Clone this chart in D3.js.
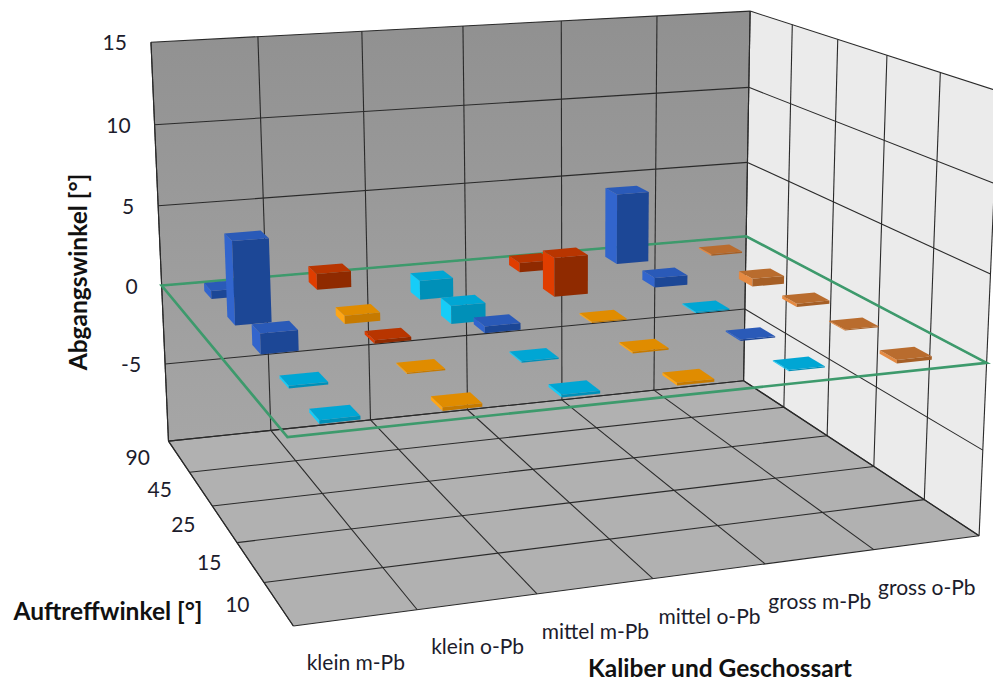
<!DOCTYPE html>
<html><head><meta charset="utf-8">
<script src="https://cdn.jsdelivr.net/npm/d3@7"></script>
<style>html,body{margin:0;padding:0;background:#fff;overflow:hidden}svg{display:block}text{font-family:Lato,"Open Sans",sans-serif}</style>
</head><body><svg id="c" width="993" height="686"></svg>
<script>
const categories=["klein m-Pb","klein o-Pb","mittel m-Pb","mittel o-Pb","gross m-Pb","gross o-Pb"];
const depthLabels=["90","45","25","15","10"];
const valueTicks=[15,10,5,0,-5];
const row90=[0.5,1.0,-1.2,0.6,4.5,0.1];
const row45=[5.0,-0.5,-1.1,2.4,0.6,-0.5];
const row25=[1.2,0.2,0.4,0.08,0.08,-0.2];
const row15=[-0.15,0.08,0.08,-0.1,0.08,0.06];
const row10=[-0.2,-0.2,-0.15,-0.15,0.06,-0.2];
const colors90=["blue","red","cyan","red","blue","brown"];
const colors45=["blue","orange","cyan","red","blue","brown"];
const colors25=["blue","red","blue","orange","cyan","brown"];
const colors15=["cyan","orange","cyan","orange","blue","brown"];
const colors10=["cyan","orange","cyan","orange","cyan","brown"];
const rows=[row90,row45,row25,row15,row10];
const rowColors=[colors90,colors45,colors25,colors15,colors10];
const palette={blue:{top:"#2b5ab8",left:"#3165cd",front:"#1f4696"},
 red:{top:"#b83400",left:"#e03c00",front:"#8f2a00"},
 cyan:{top:"#04a6d4",left:"#18cdf8",front:"#0690b8"},
 orange:{top:"#e08c00",left:"#ffa614",front:"#c67a00"},
 brown:{top:"#b96c2e",left:"#e58a42",front:"#a65f26"}};
// camera frame: cube corners (category, depth, value) seen on screen
const frame=[[0,5,15,151,42],[6,5,15,750,11],[6,5,-10,743,380],[0,5,-10,168,441],[0,0,-10,294,626],[6,0,-10,979,536],
 [6,0,15,998,91],[0,5,0,162,286],[6,5,0,747,237],[6,0,0,987,363],[0,0,0,287,437]];
function solve(A,b){const n=b.length,M=A.map((r,i)=>[...r,b[i]]);
 for(let i=0;i<n;i++){let p=i;for(let k=i+1;k<n;k++)if(Math.abs(M[k][i])>Math.abs(M[p][i]))p=k;[M[i],M[p]]=[M[p],M[i]];
  for(let k=0;k<n;k++){if(k===i)continue;const f=M[k][i]/M[i][i];for(let j=i;j<=n;j++)M[k][j]-=f*M[i][j];}}
 return M.map((r,i)=>r[n]/r[i]);}
const nz=z=>(z+10)/25;
const eqs=[],rhs=[];
frame.forEach(([X,Y,Z,u,v])=>{const x=X/6,y=Y/5,z=nz(Z),U=u/1000,V=v/1000;
 eqs.push([x,y,z,1,0,0,0,0,-U*x,-U*y,-U*z]);rhs.push(U);
 eqs.push([0,0,0,0,x,y,z,1,-V*x,-V*y,-V*z]);rhs.push(V);});
const N=d3.range(11).map(i=>d3.range(11).map(j=>d3.sum(eqs,e=>e[i]*e[j])));
const B=d3.range(11).map(i=>d3.sum(eqs,(e,k)=>e[i]*rhs[k]));
const P=solve(N,B);
const project=(X,Y,Z)=>{const x=X/6,y=Y/5,z=nz(Z),w=P[8]*x+P[9]*y+P[10]*z+1;
 return [1000*(P[0]*x+P[1]*y+P[2]*z+P[3])/w,1000*(P[4]*x+P[5]*y+P[6]*z+P[7])/w];};

const xBand=d3.scaleBand().domain(categories).range([0,6]).paddingInner(.67).paddingOuter(.335);
const yBand=d3.scaleBand().domain(depthLabels).range([5,0]).paddingInner(.68).paddingOuter(.34);
const zS=d3.scaleLinear().domain([-10,15]).range([-10,15]);
const path=d3.line();
const poly=pts=>path(pts.map(p=>project(...p)))+"Z";
const svg=d3.select("#c");
const defs=svg.append("defs");
const g=defs.append("linearGradient").attr("id","wall").attr("x1",0).attr("x2",0).attr("y1",0).attr("y2",1);
g.append("stop").attr("offset",0).attr("stop-color","#909090");
g.append("stop").attr("offset",1).attr("stop-color","#a6a6a6");
defs.append("filter").attr("id","soft").append("feGaussianBlur").attr("stdDeviation",.45);
const root=svg.append("g").attr("filter","url(#soft)");
// walls
root.append("path").attr("d",poly([[0,5,15],[6,5,15],[6,5,-10],[0,5,-10]])).attr("fill","url(#wall)");
root.append("path").attr("d",poly([[6,5,15],[6,0,15],[6,0,-10],[6,5,-10]])).attr("fill","#ebebeb");
root.append("path").attr("d",poly([[0,5,-10],[6,5,-10],[6,0,-10],[0,0,-10]])).attr("fill","#b1b1b1");
// grid
const gridSegs=[];
const zTicks=[15,10,5,0,-5,-10];
zTicks.forEach(z=>{gridSegs.push([[0,5,zS(z)],[6,5,zS(z)]]);gridSegs.push([[6,5,zS(z)],[6,0,zS(z)]]);});
d3.range(7).forEach(i=>{gridSegs.push([[i,5,15],[i,5,-10]]);gridSegs.push([[i,5,-10],[i,0,-10]]);});
d3.range(6).forEach(j=>{gridSegs.push([[0,j,-10],[6,j,-10]]);gridSegs.push([[6,j,-10],[6,j,15]]);});
gridSegs.push([[0,5,15],[0,5,-10]],[[0,0,-10],[0,5,-10]]);
root.append("g").selectAll("path").data(gridSegs).join("path").attr("d",d=>path(d.map(p=>project(...p))))
 .attr("fill","none").attr("stroke","#2a2a2a").attr("stroke-width",1.1);
// zero plane
root.append("path").attr("d",poly([[0,5,0],[6,5,0],[6,0,0],[0,0,0]])).attr("fill","none").attr("stroke","#3d9a6c").attr("stroke-width",2.6);
// bars
const bars=[];
depthLabels.forEach((dl,r)=>categories.forEach((c,i)=>bars.push({dl,c,v:rows[r][i],col:palette[rowColors[r][i]]})));
bars.sort((a,b)=>d3.descending(yBand(a.dl),yBand(b.dl))||d3.descending(xBand(a.c),xBand(b.c)));
const bg=root.append("g").selectAll("g").data(bars).join("g");
const bw=xBand.bandwidth(),bd=yBand.bandwidth();
const geo=d=>{const x0=xBand(d.c),x1=x0+bw,y0=yBand(d.dl),y1=y0+bd,zb=zS(Math.min(0,d.v)),zt=zS(Math.max(0,d.v));return{x0,x1,y0,y1,zb,zt};};
bg.append("path").attr("fill",d=>d.col.left).attr("d",d=>{const g=geo(d);return poly([[g.x0,g.y0,g.zt],[g.x0,g.y1,g.zt],[g.x0,g.y1,g.zb],[g.x0,g.y0,g.zb]]);});
bg.append("path").attr("fill",d=>d.col.front).attr("d",d=>{const g=geo(d);return poly([[g.x0,g.y0,g.zt],[g.x1,g.y0,g.zt],[g.x1,g.y0,g.zb],[g.x0,g.y0,g.zb]]);});
bg.append("path").attr("fill",d=>d.col.top).attr("d",d=>{const g=geo(d);return poly([[g.x0,g.y0,g.zt],[g.x1,g.y0,g.zt],[g.x1,g.y1,g.zt],[g.x0,g.y1,g.zt]]);});
// labels
const rowMid=d=>yBand(d)+bd/2,catMid=d=>xBand(d)+bw/2;
const lab=svg.append("g").attr("fill","#1c1c2c").attr("font-size",21);
lab.selectAll(".v").data(valueTicks).join("text").attr("text-anchor","end").attr("dominant-baseline","middle")
 .attr("x",d=>project(0,5,d)[0]-24).attr("y",d=>project(0,5,d)[1]+3).text(d=>d);
lab.selectAll(".d").data(depthLabels).join("text").attr("text-anchor","middle").attr("dominant-baseline","middle")
 .attr("x",d=>project(0,rowMid(d),-10)[0]-41).attr("y",d=>project(0,rowMid(d),-10)[1]+3).text(d=>d);
lab.selectAll(".c").data(categories).join("text").attr("text-anchor","middle").attr("dominant-baseline","middle")
 .attr("x",d=>project(catMid(d),0,-10)[0]).attr("y",d=>project(catMid(d),0,-10)[1]+47).text(d=>d);
const ttl=svg.append("g").attr("fill","#111").attr("font-size",24.5).attr("font-weight",700);
ttl.append("text").attr("x",720).attr("y",671).attr("text-anchor","middle").attr("dominant-baseline","middle").text("Kaliber und Geschossart");
ttl.append("text").attr("x",108).attr("y",614).attr("text-anchor","middle").attr("dominant-baseline","middle").text("Auftreffwinkel [°]");
ttl.append("text").attr("transform","translate(81,272) rotate(-90)").attr("text-anchor","middle").attr("dominant-baseline","middle").text("Abgangswinkel [°]");
</script></body></html>
